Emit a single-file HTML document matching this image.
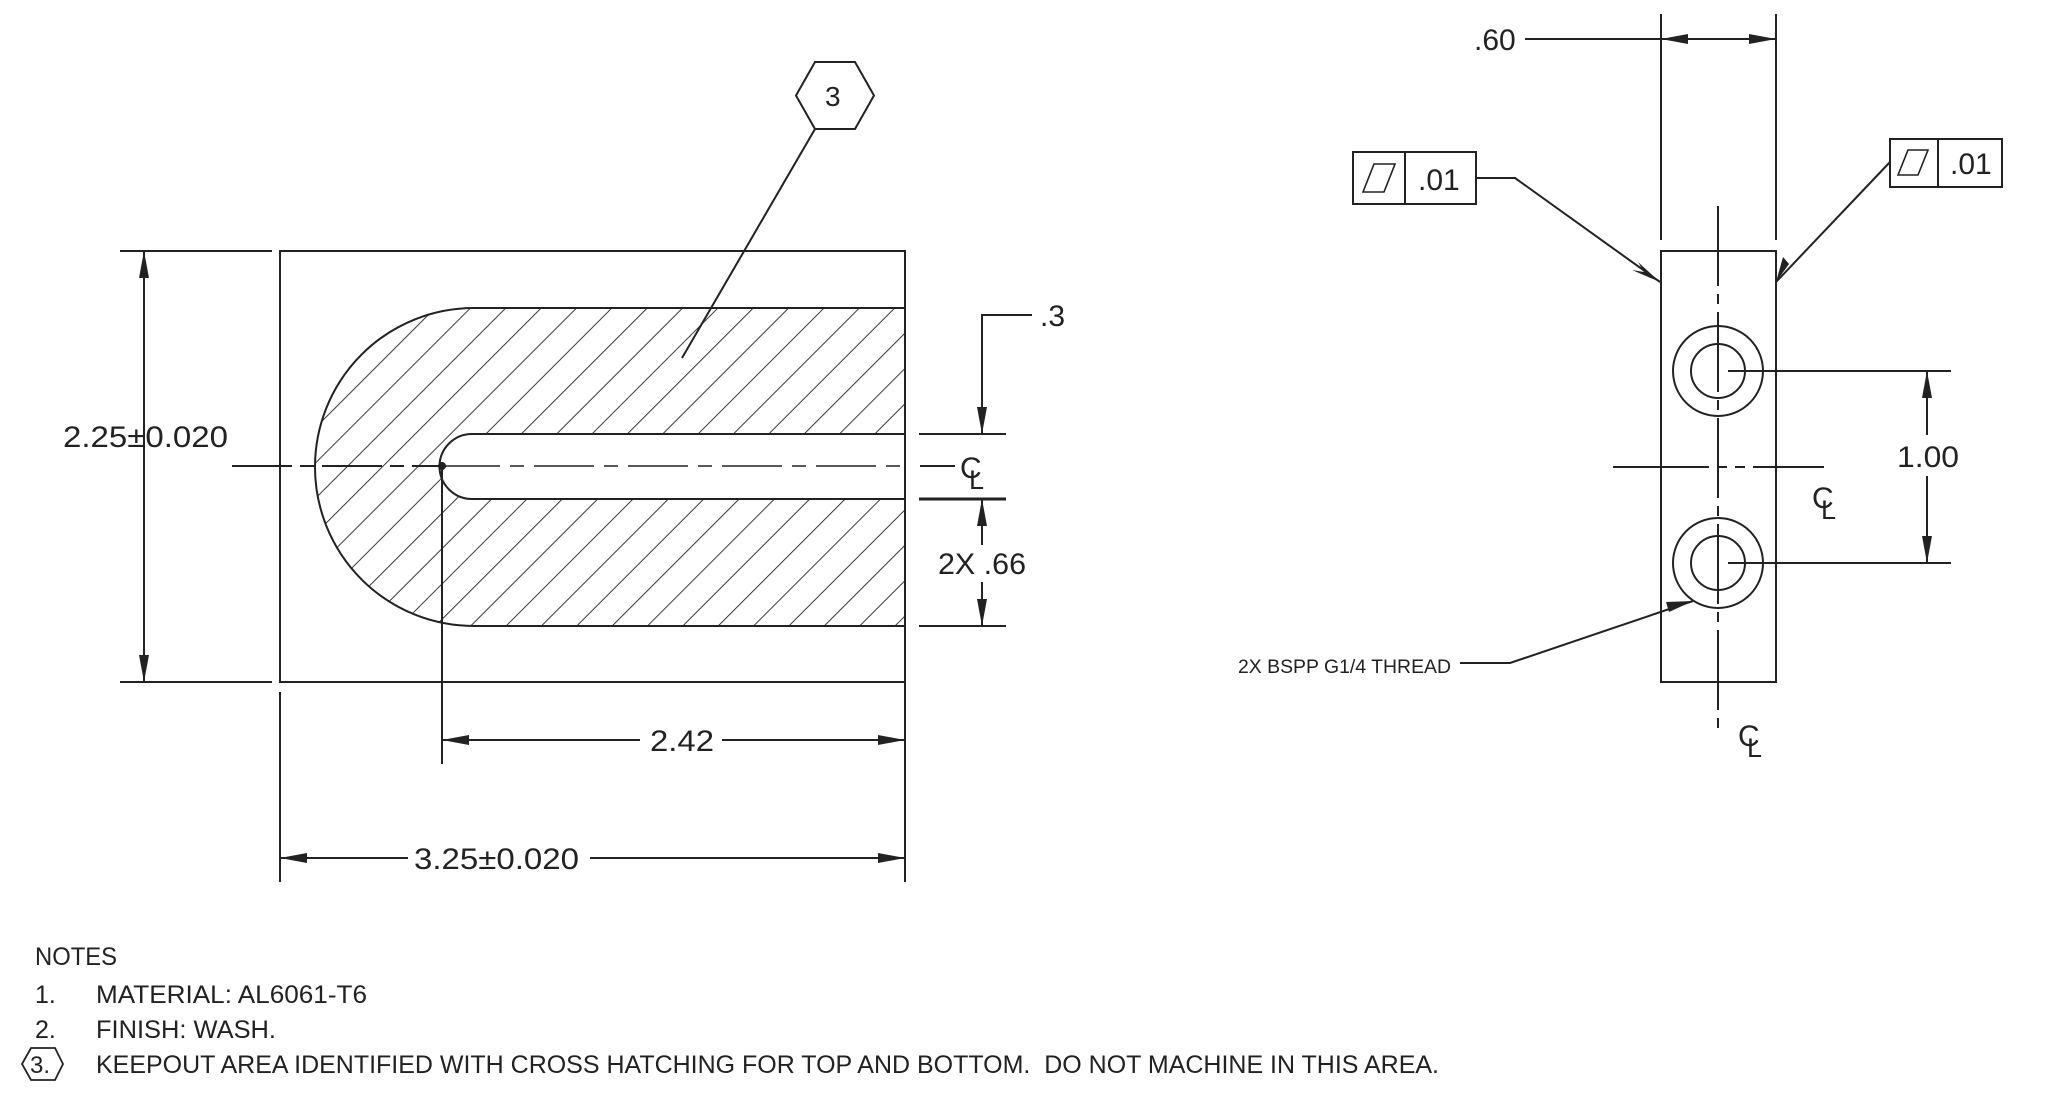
<!DOCTYPE html>
<html><head><meta charset="utf-8"><style>
html,body{margin:0;padding:0;background:#fff;}
svg{display:block;}
text{font-family:"Liberation Sans",sans-serif;fill:#222;}
</style></head><body>
<svg width="2048" height="1100" viewBox="0 0 2048 1100" xmlns="http://www.w3.org/2000/svg">
<defs>
<pattern id="h" patternUnits="userSpaceOnUse" width="25" height="25" patternTransform="rotate(45)">
<line x1="0" y1="0" x2="0" y2="25" stroke="#222" stroke-width="1.8"/>
</pattern>
</defs>
<g stroke="#222" stroke-width="2" fill="none">
<rect x="280" y="251" width="625" height="431"/>
<path d="M905 308 L474 308 A159 159 0 0 0 474 626 L905 626 Z M905 434 L472 434 A32.5 32.5 0 0 0 472 499 L905 499 Z" fill="url(#h)" fill-rule="evenodd"/>
<line x1="232" y1="466" x2="440" y2="466" stroke-dasharray="60 8 14 8"/>
<line x1="440" y1="466" x2="905" y2="466" stroke-dasharray="60 10 14 10" stroke-width="1.6"/>
<line x1="920" y1="466" x2="955" y2="466"/>
<circle cx="442" cy="466" r="3" fill="#222"/>
<line x1="120" y1="251" x2="272" y2="251"/>
<line x1="120" y1="682" x2="272" y2="682"/>
<line x1="144" y1="251" x2="144" y2="682"/>
<line x1="442" y1="466" x2="442" y2="764"/>
<line x1="442" y1="740" x2="640" y2="740"/>
<line x1="722" y1="740" x2="905" y2="740"/>
<line x1="280" y1="692" x2="280" y2="882"/>
<line x1="905" y1="682" x2="905" y2="882"/>
<line x1="280" y1="858" x2="408" y2="858"/>
<line x1="590" y1="858" x2="905" y2="858"/>
<line x1="919" y1="434" x2="1006" y2="434"/>
<line x1="919" y1="499" x2="1006" y2="499" stroke-width="3"/>
<line x1="919" y1="626" x2="1006" y2="626"/>
<polyline points="1032,315 982,315 982,434"/>
<line x1="982" y1="499" x2="982" y2="545"/>
<line x1="982" y1="582" x2="982" y2="626"/>
<polygon points="815,62 855,62 874,95.5 855,129 815,129 796,95.5"/>
<line x1="815" y1="129" x2="682" y2="358"/>
<rect x="1661" y="251" width="115" height="431"/>
<line x1="1661" y1="14" x2="1661" y2="240"/>
<line x1="1776" y1="14" x2="1776" y2="240"/>
<line x1="1525" y1="39" x2="1776" y2="39"/>
<line x1="1718" y1="206" x2="1718" y2="732" stroke-dasharray="80 8 10 8"/>
<line x1="1613" y1="467" x2="1824" y2="467" stroke-dasharray="96 8 10 8 10 8 200"/>
<circle cx="1718" cy="371" r="45"/><circle cx="1718" cy="371" r="27"/>
<circle cx="1718" cy="563" r="45"/><circle cx="1718" cy="563" r="27"/>
<line x1="1728" y1="371" x2="1951" y2="371"/>
<line x1="1728" y1="563" x2="1951" y2="563"/>
<line x1="1927" y1="371" x2="1927" y2="435"/>
<line x1="1927" y1="476" x2="1927" y2="563"/>
<rect x="1353" y="152" width="123" height="52"/><line x1="1405" y1="152" x2="1405" y2="204"/>
<path d="M1363 192 L1374 164 L1395 164 L1384 192 Z" stroke-width="1.6"/>
<polyline points="1476,178 1515,178 1660,282"/>
<rect x="1890" y="139" width="112" height="48"/><line x1="1938" y1="139" x2="1938" y2="187"/>
<path d="M1898 175 L1908 150 L1928 150 L1918 175 Z" stroke-width="1.6"/>
<line x1="1890" y1="162" x2="1776" y2="282"/>
<polyline points="1460,663 1510,663 1693,601"/>
<polygon points="22,1064 31,1048 55,1048 63,1064 55,1080 31,1080" stroke-width="1.8"/>
</g>
<g fill="#222">
<polygon points="144,251 139,278 149,278"/>
<polygon points="144,682 139,655 149,655"/>
<polygon points="442,740 469,735 469,745"/>
<polygon points="905,740 878,735 878,745"/>
<polygon points="280,858 307,853 307,863"/>
<polygon points="905,858 878,853 878,863"/>
<polygon points="982,434 977,407 987,407"/>
<polygon points="982,499 977,526 987,526"/>
<polygon points="982,626 977,599 987,599"/>
<polygon points="1661,39 1688,34 1688,44"/>
<polygon points="1776,39 1749,34 1749,44"/>
<polygon points="1927,371 1922,398 1932,398"/>
<polygon points="1927,563 1922,536 1932,536"/>
<polygon points="1660,282 1638,262 1644,272 1632,270"/>
<polygon points="1776,282 1783,257 1789,264"/>
<polygon points="1693,601 1666,602 1669,612"/>
</g>
<g font-size="30">
<text x="63" y="447" textLength="165" lengthAdjust="spacingAndGlyphs">2.25±0.020</text>
<text x="650" y="751" textLength="64" lengthAdjust="spacingAndGlyphs">2.42</text>
<text x="414" y="869" textLength="165" lengthAdjust="spacingAndGlyphs">3.25±0.020</text>
<text x="1040" y="326">.3</text>
<text x="938" y="574" textLength="88" lengthAdjust="spacingAndGlyphs">2X .66</text>
<text x="1474" y="50">.60</text>
<text x="1897" y="467" textLength="62" lengthAdjust="spacingAndGlyphs">1.00</text>
<text x="825" y="106" font-size="28">3</text>
<text x="1418" y="190">.01</text>
<text x="1950" y="174">.01</text>
</g>
<g font-size="30">
<text x="960" y="478">C</text><text x="969" y="489" font-size="27">L</text>
<text x="1812" y="508">C</text><text x="1821" y="519" font-size="27">L</text>
<text x="1738" y="746">C</text><text x="1747" y="757" font-size="27">L</text>
</g>
<text x="1238" y="673" font-size="19" textLength="213" lengthAdjust="spacingAndGlyphs">2X BSPP G1/4 THREAD</text>
<g font-size="25">
<text x="35" y="965" textLength="82" lengthAdjust="spacingAndGlyphs">NOTES</text>
<text x="35" y="1003">1.</text>
<text x="96" y="1003" textLength="271" lengthAdjust="spacingAndGlyphs">MATERIAL: AL6061-T6</text>
<text x="35" y="1038">2.</text>
<text x="96" y="1038" textLength="180" lengthAdjust="spacingAndGlyphs">FINISH: WASH.</text>
<text x="30" y="1073" font-size="24">3.</text>
<text x="96" y="1073" textLength="1343" lengthAdjust="spacingAndGlyphs" xml:space="preserve">KEEPOUT AREA IDENTIFIED WITH CROSS HATCHING FOR TOP AND BOTTOM.  DO NOT MACHINE IN THIS AREA.</text>
</g>
</svg>
</body></html>
